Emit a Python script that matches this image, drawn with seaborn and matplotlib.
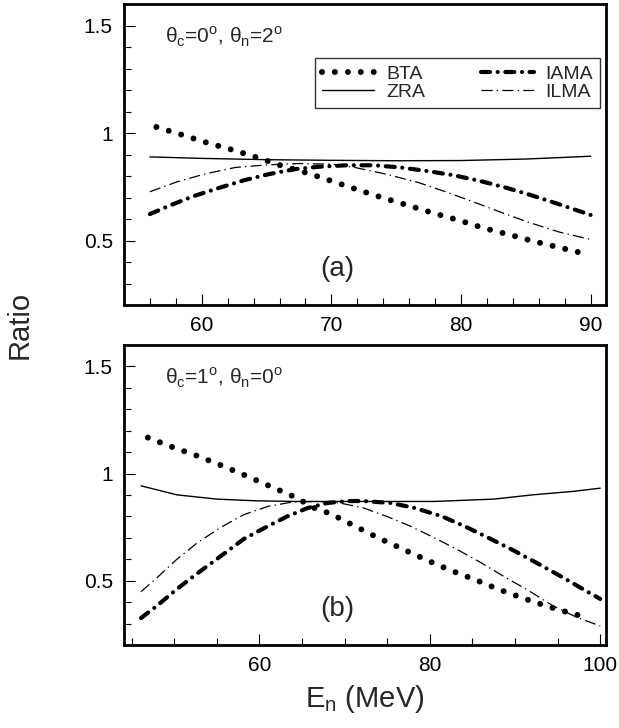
import numpy as np
import pandas as pd
import matplotlib
matplotlib.use("Agg")
import matplotlib.pyplot as plt
import seaborn as sns
from matplotlib.ticker import MultipleLocator, FixedLocator, FixedFormatter

# ---------------- data ----------------
# panel (a): theta_c = 0 deg, theta_n = 2 deg
a_zra_x = [56, 60, 65, 70, 75, 80, 85, 90]
a_zra_y = [0.889, 0.882, 0.876, 0.873, 0.871, 0.872, 0.879, 0.892]
a_bta_x = [56.5, 58.5, 60.4, 62.4, 64.3, 66.2, 68.2, 70.2, 72.1, 74.0, 76.0,
           77.9, 79.9, 81.8, 83.8, 85.7, 87.7, 89.8]
a_bta_y = [1.028, 0.991, 0.955, 0.921, 0.886, 0.847, 0.813, 0.773, 0.735, 0.698,
           0.662, 0.627, 0.593, 0.557, 0.526, 0.495, 0.466, 0.435]
a_iama_x = [56.0, 57.5, 59.3, 61.3, 63.3, 65.2, 67.2, 69.0, 71.2, 73.3, 75.3,
            77.3, 79.4, 81.4, 83.4, 85.3, 87.3, 90.0]
a_iama_y = [0.623, 0.662, 0.705, 0.744, 0.781, 0.809, 0.832, 0.843, 0.850, 0.850,
            0.840, 0.824, 0.804, 0.778, 0.747, 0.713, 0.674, 0.619]
a_ilma_x = [56.0, 58.1, 60.2, 62.6, 65.1, 67.5, 70.0, 71.8, 74.2, 76.7, 78.8,
            80.9, 83.1, 85.2, 87.6, 90.0]
a_ilma_y = [0.727, 0.773, 0.809, 0.840, 0.852, 0.858, 0.855, 0.840, 0.809, 0.770,
            0.727, 0.681, 0.631, 0.585, 0.539, 0.505]

# panel (b): theta_c = 1 deg, theta_n = 0 deg
b_zra_x = [46.1, 50.3, 55.0, 59.6, 64.3, 71.2, 80.5, 87.5, 92.1, 96.8, 100.0]
b_zra_y = [0.943, 0.901, 0.881, 0.873, 0.870, 0.870, 0.870, 0.881, 0.901, 0.917, 0.932]
b_bta_x = [46.9, 49.7, 52.7, 55.6, 58.5, 61.3, 64.2, 66.4, 68.4, 71.2, 73.9,
           76.7, 79.6, 82.4, 85.3, 88.2, 91.2, 94.1, 97.0, 98.6]
b_bta_y = [1.168, 1.125, 1.083, 1.037, 0.989, 0.940, 0.890, 0.840, 0.812, 0.755,
           0.701, 0.650, 0.597, 0.549, 0.505, 0.458, 0.415, 0.377, 0.343, 0.330]
b_iama_x = [46.1, 48.0, 50.3, 52.7, 55.5, 58.2, 61.0, 63.3, 65.7, 68.0, 70.3,
            72.2, 75.4, 78.2, 81.4, 84.2, 87.0, 89.8, 92.6, 95.4, 98.1, 100.0]
b_iama_y = [0.326, 0.384, 0.461, 0.534, 0.616, 0.696, 0.755, 0.801, 0.840, 0.863,
            0.872, 0.872, 0.863, 0.840, 0.801, 0.752, 0.698, 0.642, 0.582, 0.520,
            0.458, 0.415]
b_ilma_x = [46.1, 48.0, 50.3, 52.7, 55.5, 58.2, 61.0, 63.8, 66.6, 69.4, 72.2,
            74.9, 77.7, 80.5, 83.3, 86.1, 88.9, 91.6, 94.4, 97.2, 100.0]
b_ilma_y = [0.449, 0.515, 0.600, 0.677, 0.750, 0.809, 0.847, 0.867, 0.870, 0.863,
            0.840, 0.801, 0.755, 0.701, 0.644, 0.582, 0.515, 0.454, 0.384, 0.330,
            0.289]

series_names = ["BTA", "ZRA", "IAMA", "ILMA"]
panel_titles = ["θ$_\\mathregular{c}$=0$^\\mathregular{o}$, θ$_\\mathregular{n}$=2$^\\mathregular{o}$",
                "θ$_\\mathregular{c}$=1$^\\mathregular{o}$, θ$_\\mathregular{n}$=0$^\\mathregular{o}$"]
panel_tags = ["(a)", "(b)"]
y_ticks = [0.5, 1.0, 1.5]
y_ticklabels = ["0.5", "1", "1.5"]
a_xticks = [60, 70, 80, 90]
b_xticks = [60, 80, 100]

# ---------------- style ----------------
sns.set_style("ticks")
plt.rcParams["font.family"] = ["Liberation Sans", "DejaVu Sans"]
plt.rcParams["mathtext.fontset"] = "custom"
plt.rcParams["mathtext.rm"] = "Liberation Sans"
plt.rcParams["lines.scale_dashes"] = False

styles = {
    "BTA":  dict(lw=4.3, linestyle=(0, (0.01, 9.3)), dash_capstyle="round"),
    "ZRA":  dict(lw=1.0, linestyle="-"),
    "IAMA": dict(lw=3.0, linestyle=(0, (6.5, 5.5, 0.01, 5.5)), dash_capstyle="round"),
    "ILMA": dict(lw=0.9, linestyle=(0, (8, 3, 1, 3))),
}

fig = plt.figure(figsize=(6.19, 7.28), dpi=100)
ax1 = fig.add_axes([0.2003, 0.581, 0.779, 0.4135])
ax2 = fig.add_axes([0.2003, 0.114, 0.779, 0.412])

panels = [
    (ax1, {"BTA": (a_bta_x, a_bta_y), "ZRA": (a_zra_x, a_zra_y),
           "IAMA": (a_iama_x, a_iama_y), "ILMA": (a_ilma_x, a_ilma_y)},
     (54.0, 91.2), a_xticks, 2),
    (ax2, {"BTA": (b_bta_x, b_bta_y), "ZRA": (b_zra_x, b_zra_y),
           "IAMA": (b_iama_x, b_iama_y), "ILMA": (b_ilma_x, b_ilma_y)},
     (44.1, 100.7), b_xticks, 5),
]

for i, (ax, data, xlim, xt, xminor) in enumerate(panels):
    for name in series_names:
        xs, ys = data[name]
        df = pd.DataFrame({"E": xs, "R": ys})
        sns.lineplot(data=df, x="E", y="R", ax=ax, color="black",
                     label=name, **styles[name])
    ax.set_xlim(*xlim)
    ax.set_ylim(0.2, 1.6)
    ax.xaxis.set_major_locator(FixedLocator(xt))
    ax.xaxis.set_minor_locator(MultipleLocator(xminor))
    ax.yaxis.set_major_locator(FixedLocator(y_ticks))
    ax.yaxis.set_major_formatter(FixedFormatter(y_ticklabels))
    ax.yaxis.set_minor_locator(MultipleLocator(0.1))
    ax.tick_params(which="both", direction="in", top=False, right=False,
                   labelsize=15, width=0.8, colors="black")
    ax.tick_params(which="major", length=8, pad=8)
    ax.tick_params(which="minor", length=5)
    for sp in ax.spines.values():
        sp.set_linewidth(2.0)
        sp.set_color("black")
    ax.set_ylabel("")
    ax.set_xlabel("")
    ax.text(0.085, 0.89, panel_titles[i], transform=ax.transAxes,
            fontsize=15, ha="left", va="center")
    ax.text(0.443, 0.12, panel_tags[i], transform=ax.transAxes,
            fontsize=20, ha="center", va="center")
    if i == 0:
        leg = ax.legend(ncol=2, loc="upper left", bbox_to_anchor=(0.396, 0.82),
                        frameon=True, fancybox=False, fontsize=14,
                        handlelength=2.7, columnspacing=2.9, labelspacing=0.05,
                        borderpad=0.35, handletextpad=0.6, borderaxespad=0)
        leg.get_frame().set_edgecolor("black")
        leg.get_frame().set_linewidth(1.0)
    else:
        if ax.get_legend() is not None:
            ax.get_legend().remove()

ax2.set_xlabel("E$_\\mathregular{n}$ (MeV)", fontsize=21, labelpad=6)
fig.text(0.032, 0.553, "Ratio", rotation=90, fontsize=21, ha="center", va="center")

fig.savefig("out.png", dpi=100, facecolor="white")
